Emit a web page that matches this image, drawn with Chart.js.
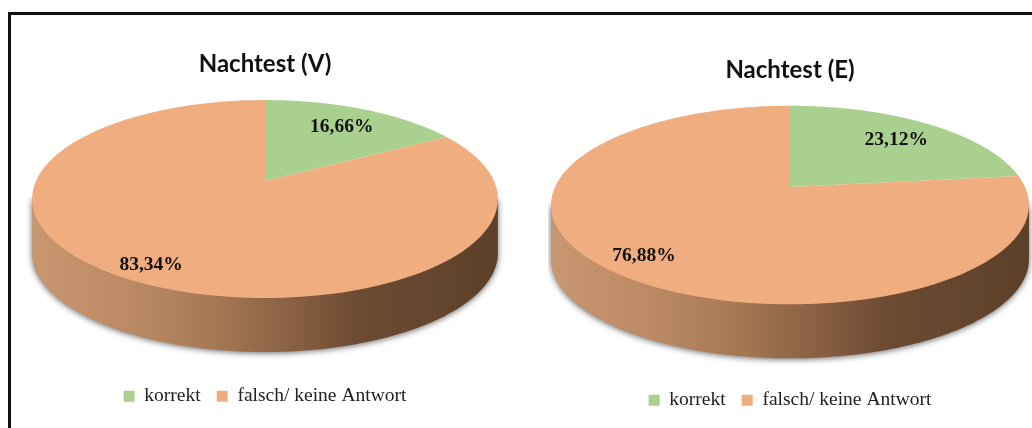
<!DOCTYPE html>
<html>
<head>
<meta charset="utf-8">
<script src="https://cdn.jsdelivr.net/npm/chart.js@4"></script>
<style>
  html, body { margin: 0; padding: 0; background: #fff; overflow: hidden; }
  #page { position: relative; width: 1032px; height: 428px; overflow: hidden; }
  #frame { position: absolute; left: 8px; top: 12px; width: 1040px; height: 440px;
           border-left: 3px solid #111; border-top: 3px solid #111; }
  canvas { position: absolute; top: 0; filter: blur(0.4px); }
</style>
</head>
<body>
<div id="page">
  <div id="frame"></div>
  <canvas id="pieV" width="530" height="428" style="left:0"></canvas>
  <canvas id="pieE" width="484" height="428" style="left:548px"></canvas>
</div>
<script>
// Values
const categories = ['korrekt', 'falsch/ keine Antwort'];
const valuesV = [16.66, 83.34];
const valuesE = [23.12, 76.88];
const sliceColors = ['#a9d08e', '#f0ad7f'];

// Tilted 3D look: the library works out the slices, this plugin lays them on a disc seen in perspective
const tiltedPie = {
  id: 'tiltedPie',
  beforeDatasetsDraw(chart, args, opts) {
    const ctx = chart.ctx;
    const arcs = chart.getDatasetMeta(0).data;
    const cx = arcs[0].x;

    function project(angle, f, drop) {
      const c = Math.cos(angle) * f;
      const s = Math.sin(angle) * f;
      const w = 1 / (1 - opts.k * s);
      return [cx + opts.rx * c * w, opts.cy + opts.ry * s * w + (drop || 0)];
    }

    // side wall
    const a0 = Math.asin(opts.k);
    const steps = 160;
    const left = project(Math.PI - a0, 1)[0];
    const right = project(a0, 1)[0];
    const wall = ctx.createLinearGradient(left, 0, right, 0);
    wall.addColorStop(0, '#c8966f');
    wall.addColorStop(0.2, '#bc8b65');
    wall.addColorStop(0.4, '#a47753');
    wall.addColorStop(0.55, '#8a6144');
    wall.addColorStop(0.7, '#6d4b32');
    wall.addColorStop(1, '#5d4029');
    ctx.save();
    ctx.beginPath();
    for (let i = 0; i <= steps; i++) {
      const p = project(a0 + (Math.PI - 2 * a0) * i / steps, 1, opts.depth);
      ctx.lineTo(p[0], p[1]);
    }
    ctx.lineTo(left, project(Math.PI - a0, 1)[1]);
    ctx.lineTo(right, project(a0, 1)[1]);
    ctx.closePath();
    ctx.shadowColor = 'rgba(0,0,0,0.6)';
    ctx.shadowBlur = 6;
    ctx.shadowOffsetY = 1;
    ctx.fillStyle = wall;
    ctx.fill();
    ctx.restore();

    // top face
    arcs.forEach(function(arc, i) {
      const color = chart.data.datasets[0].backgroundColor[i];
      ctx.beginPath();
      const apex = project(0, 0);
      ctx.moveTo(apex[0], apex[1]);
      for (let j = 0; j <= steps; j++) {
        const p = project(arc.startAngle + (arc.endAngle - arc.startAngle) * j / steps, 1);
        ctx.lineTo(p[0], p[1]);
      }
      ctx.closePath();
      ctx.fillStyle = color;
      ctx.fill();
    });

    // value labels
    ctx.save();
    ctx.font = 'bold 19.5px "Liberation Serif"';
    ctx.fillStyle = '#111';
    ctx.textAlign = 'center';
    ctx.textBaseline = 'middle';
    arcs.forEach(function(arc, i) {
      const p = project((arc.startAngle + arc.endAngle) / 2, opts.labelAt[i]);
      const text = chart.data.datasets[0].data[i].toFixed(2).replace('.', ',') + '%';
      ctx.fillText(text, p[0], p[1] + 2);
    });
    ctx.restore();
    return false;
  }
};

function makePie(id, title, values, titleTop, legendBottom, tilt) {
  return new Chart(document.getElementById(id), {
    type: 'pie',
    data: {
      labels: categories,
      datasets: [{ data: values, backgroundColor: sliceColors, borderWidth: 0 }]
    },
    plugins: [tiltedPie],
    options: {
      responsive: false,
      animation: false,
      layout: { padding: { bottom: legendBottom } },
      plugins: {
        tooltip: { enabled: false },
        title: {
          display: true,
          text: title,
          color: '#111',
          font: { family: 'Lato', size: 24, weight: 'bold' },
          padding: { top: titleTop, bottom: 10 }
        },
        legend: {
          position: 'bottom',
          labels: {
            boxWidth: 11,
            boxHeight: 11,
            padding: 16,
            color: '#222',
            font: { family: 'Liberation Serif', size: 19.5 }
          }
        },
        tiltedPie: tilt
      }
    }
  });
}

makePie('pieV', 'Nachtest (V)', valuesV, 50, 12,
  { rx: 229, ry: 95.7, k: 0.182, cy: 181, depth: 54, labelAt: [0.75, 0.86] });
makePie('pieE', 'Nachtest (E)', valuesE, 56, 8,
  { rx: 235, ry: 96, k: 0.182, cy: 187, depth: 54, labelAt: [0.75, 0.83] });
</script>
</body>
</html>
